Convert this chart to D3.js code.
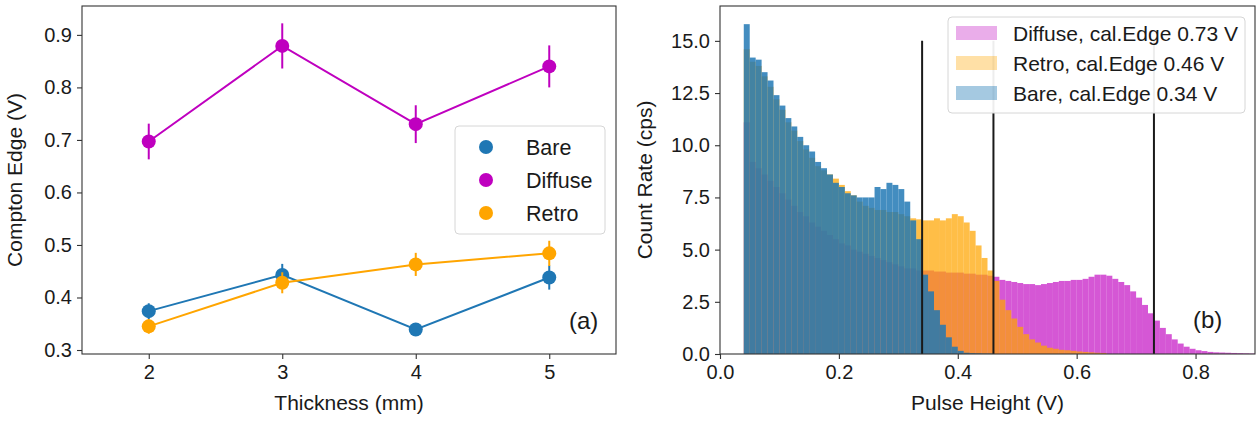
<!DOCTYPE html>
<html>
<head>
<meta charset="utf-8">
<script src="https://cdn.jsdelivr.net/npm/d3@7"></script>
<style>
  body { margin: 0; background: #fff; }
  svg text { font-family: "Liberation Sans", Arial, sans-serif; fill: #1a1a1a; }
</style>
</head>
<body>
<svg id="chart" width="1257" height="421"></svg>
<script>
// ---- panel (a): Compton edge vs thickness
const thickness = [2, 3, 4, 5];
const bareEdge = [0.374, 0.443, 0.339, 0.438];
const bareErr = [0.015, 0.021, 0.009, 0.023];
const diffuseEdge = [0.697, 0.879, 0.730, 0.840];
const diffuseErr = [0.034, 0.043, 0.036, 0.040];
const retroEdge = [0.345, 0.428, 0.463, 0.484];
const retroErr = [0.014, 0.020, 0.022, 0.024];
const yTicksA = [0.3, 0.4, 0.5, 0.6, 0.7, 0.8, 0.9];

// ---- panel (b): pulse height spectra, bins of 0.01 V starting at 0.04 V
const binStart = 0.04;
const binWidth = 0.01;
const bareCounts = [15.8, 14.2, 14.1, 13.5, 13.1, 12.4, 11.9, 11.3, 10.9, 10.4,
  10.0, 9.7, 9.2, 8.9, 8.6, 8.2, 8.0, 7.7, 7.6, 7.5,
  7.5, 7.5, 8.0, 7.9, 8.2, 8.1, 7.9, 7.3, 6.4, 5.5,
  3.8, 3.0, 2.1, 1.4, 0.8, 0.35, 0.15, 0.06, 0.04, 0.03,
  0.02, 0.02];
const retroCounts = [14.6, 14.0, 13.8, 13.3, 12.8, 12.2, 11.7, 11.1, 10.7, 10.2,
  9.8, 9.4, 9.0, 8.8, 8.6, 8.4, 8.1, 7.8, 7.6, 7.3,
  7.1, 7.0, 6.9, 6.9, 6.8, 6.8, 6.7, 6.6, 6.5, 6.45,
  6.4, 6.4, 6.5, 6.4, 6.5, 6.7, 6.6, 6.3, 5.9, 5.2,
  4.6, 4.0, 3.5, 2.6, 2.1, 1.7, 1.3, 0.95, 0.7, 0.55,
  0.4, 0.3, 0.25, 0.2, 0.18, 0.15, 0.12, 0.1, 0.08, 0.06,
  0.05];
const diffuseCounts = [11.1, 9.2, 8.9, 8.6, 8.3, 8.0, 7.7, 7.4, 7.1, 6.8,
  6.6, 6.3, 6.1, 5.9, 5.7, 5.5, 5.3, 5.2, 5.0, 4.9,
  4.8, 4.7, 4.6, 4.5, 4.4, 4.3, 4.2, 4.1, 4.1, 4.0,
  4.0, 4.0, 3.95, 3.95, 3.9, 3.9, 3.9, 3.85, 3.85, 3.8,
  3.8, 3.75, 3.7, 3.55, 3.5, 3.45, 3.4, 3.35, 3.35, 3.3,
  3.35, 3.4, 3.45, 3.5, 3.5, 3.55, 3.55, 3.6, 3.7, 3.8,
  3.8, 3.75, 3.6, 3.45, 3.3, 3.0, 2.7, 2.35, 1.95, 1.6,
  1.25, 0.95, 0.7, 0.5, 0.35, 0.25, 0.18, 0.14, 0.1, 0.08,
  0.07, 0.06, 0.05, 0.04, 0.03, 0.02];
const calEdges = [0.34, 0.46, 0.73];
const calLineTop = 15;
const xTicksB = [0.0, 0.2, 0.4, 0.6, 0.8];
const yTicksB = [0, 2.5, 5, 7.5, 10, 12.5, 15];

const colors = { bare: '#1f77b4', diffuse: '#bf00bf', retro: '#ffa500' };
const textColor = '#1a1a1a';
const svg = d3.select('#chart');

function styleAxis(g, size) {
  g.select('.domain').remove();
  g.selectAll('.tick line').attr('stroke', '#333').attr('stroke-width', 1.1);
  g.selectAll('.tick text').attr('font-size', size).attr('fill', textColor);
}

// ================= panel (a) =================
const A = { left: 82, right: 616, top: 6, bottom: 354 };
const xA = d3.scaleLinear().domain([1.5, 5.5]).range([A.left, A.right]);
const yA = d3.scaleLinear().domain([0.2924, 0.955]).range([A.bottom, A.top]);

svg.append('g')
  .attr('transform', `translate(0,${A.bottom})`)
  .call(d3.axisBottom(xA).tickValues(thickness).tickFormat(d3.format('d')).tickSize(5).tickPadding(6))
  .call(g => styleAxis(g, 20));
svg.append('g')
  .attr('transform', `translate(${A.left},0)`)
  .call(d3.axisLeft(yA).tickValues(yTicksA).tickFormat(d3.format('.1f')).tickSize(5).tickPadding(5))
  .call(g => styleAxis(g, 20));

const seriesA = [
  { name: 'Bare', vals: bareEdge, err: bareErr, color: colors.bare },
  { name: 'Diffuse', vals: diffuseEdge, err: diffuseErr, color: colors.diffuse },
  { name: 'Retro', vals: retroEdge, err: retroErr, color: colors.retro },
];

const lineA = d3.line().x((d, i) => xA(thickness[i])).y(d => yA(d));
seriesA.forEach(s => {
  const g = svg.append('g');
  g.append('path').datum(s.vals)
    .attr('d', lineA).attr('fill', 'none')
    .attr('stroke', s.color).attr('stroke-width', 2);
  g.selectAll('line.err').data(s.vals).join('line')
    .attr('x1', (d, i) => xA(thickness[i])).attr('x2', (d, i) => xA(thickness[i]))
    .attr('y1', (d, i) => yA(d - s.err[i])).attr('y2', (d, i) => yA(d + s.err[i]))
    .attr('stroke', s.color).attr('stroke-width', 2);
  g.selectAll('circle').data(s.vals).join('circle')
    .attr('cx', (d, i) => xA(thickness[i])).attr('cy', d => yA(d))
    .attr('r', 7).attr('fill', s.color);
});

svg.append('rect')
  .attr('x', A.left).attr('y', A.top)
  .attr('width', A.right - A.left).attr('height', A.bottom - A.top)
  .attr('fill', 'none').attr('stroke', '#333').attr('stroke-width', 1.1);

// legend (a)
const legA = svg.append('g');
legA.append('rect')
  .attr('x', 455).attr('y', 126).attr('width', 150).attr('height', 108).attr('rx', 4)
  .attr('fill', '#fff').attr('fill-opacity', 0.85).attr('stroke', '#d6d6d6');
seriesA.forEach((s, i) => {
  const y = 147 + i * 33;
  legA.append('circle').attr('cx', 486).attr('cy', y).attr('r', 7).attr('fill', s.color);
  legA.append('text').attr('x', 526).attr('y', y).attr('dy', '0.36em')
    .attr('font-size', 21.5).text(s.name);
});

svg.append('text').attr('x', 569).attr('y', 329).attr('font-size', 24).text('(a)');

svg.append('text')
  .attr('transform', `translate(22,${(A.top + A.bottom) / 2}) rotate(-90)`)
  .attr('text-anchor', 'middle').attr('font-size', 21).text('Compton Edge (V)');
svg.append('text')
  .attr('x', (A.left + A.right) / 2).attr('y', 410)
  .attr('text-anchor', 'middle').attr('font-size', 21).text('Thickness (mm)');

// ================= panel (b) =================
const B = { left: 720, right: 1255, top: 6, bottom: 354 };
const xB = d3.scaleLinear().domain([0, 0.9]).range([B.left, B.right]);
const yB = d3.scaleLinear().domain([0, 16.67]).range([B.bottom, B.top]);

svg.append('g')
  .attr('transform', `translate(0,${B.bottom})`)
  .call(d3.axisBottom(xB).tickValues(xTicksB).tickFormat(d3.format('.1f')).tickSize(5).tickPadding(6))
  .call(g => styleAxis(g, 20));
svg.append('g')
  .attr('transform', `translate(${B.left},0)`)
  .call(d3.axisLeft(yB).tickValues(yTicksB).tickFormat(d3.format('.1f')).tickSize(5).tickPadding(5))
  .call(g => styleAxis(g, 20));

const seriesB = [
  { label: 'Diffuse, cal.Edge 0.73 V', counts: diffuseCounts, color: colors.diffuse, op: 0.66, legOp: 0.32 },
  { label: 'Retro, cal.Edge 0.46 V', counts: retroCounts, color: colors.retro, op: 0.72, legOp: 0.35 },
  { label: 'Bare, cal.Edge 0.34 V', counts: bareCounts, color: colors.bare, op: 0.84, legOp: 0.4 },
];

seriesB.forEach(s => {
  svg.append('g').selectAll('rect').data(s.counts).join('rect')
    .attr('x', (d, i) => xB(binStart + i * binWidth))
    .attr('width', (d, i) => xB(binStart + (i + 1) * binWidth) - xB(binStart + i * binWidth))
    .attr('y', d => yB(d))
    .attr('height', d => yB(0) - yB(d))
    .attr('fill', s.color).attr('fill-opacity', s.op);
});

svg.append('g').selectAll('line').data(calEdges).join('line')
  .attr('x1', d => xB(d)).attr('x2', d => xB(d))
  .attr('y1', yB(0)).attr('y2', yB(calLineTop))
  .attr('stroke', '#1a1a1a').attr('stroke-width', 2);

svg.append('rect')
  .attr('x', B.left).attr('y', B.top)
  .attr('width', B.right - B.left).attr('height', B.bottom - B.top)
  .attr('fill', 'none').attr('stroke', '#333').attr('stroke-width', 1.1);

// legend (b)
const legB = svg.append('g');
legB.append('rect')
  .attr('x', 948).attr('y', 17).attr('width', 297).attr('height', 96).attr('rx', 4)
  .attr('fill', '#fff').attr('fill-opacity', 0.92).attr('stroke', '#d6d6d6');
seriesB.forEach((s, i) => {
  const y = 33 + i * 30;
  legB.append('rect').attr('x', 956).attr('y', y - 7).attr('width', 41).attr('height', 14)
    .attr('fill', s.color).attr('fill-opacity', s.legOp);
  legB.append('text').attr('x', 1013).attr('y', y).attr('dy', '0.36em')
    .attr('font-size', 21).text(s.label);
});

svg.append('text').attr('x', 1193).attr('y', 328).attr('font-size', 24).text('(b)');

svg.append('text')
  .attr('transform', `translate(652,${(B.top + B.bottom) / 2}) rotate(-90)`)
  .attr('text-anchor', 'middle').attr('font-size', 21).text('Count Rate (cps)');
svg.append('text')
  .attr('x', (B.left + B.right) / 2).attr('y', 410)
  .attr('text-anchor', 'middle').attr('font-size', 21).text('Pulse Height (V)');
</script>
</body>
</html>
